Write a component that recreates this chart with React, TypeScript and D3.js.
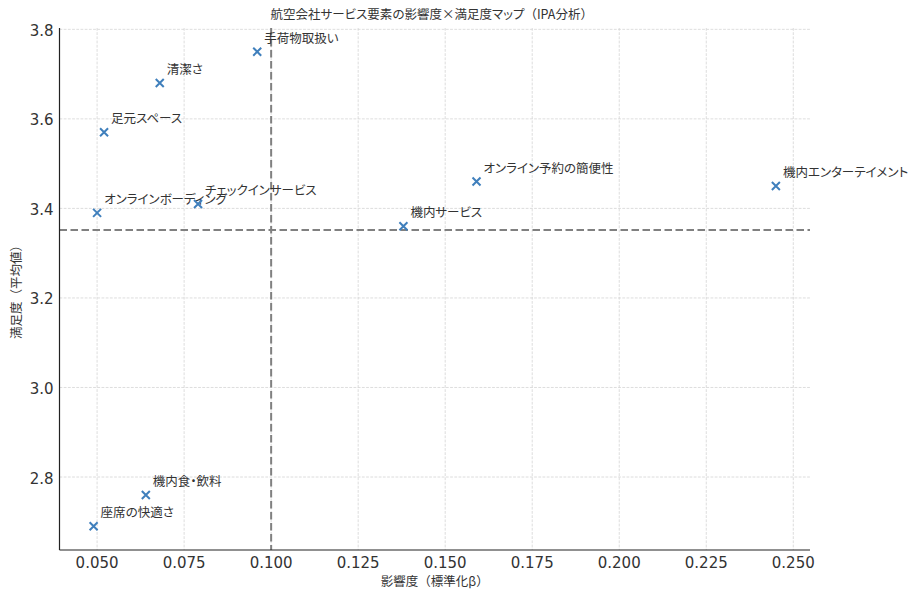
import React from "react";
import * as d3 from "d3";

const labels = [
  "手荷物取扱い",
  "清潔さ",
  "足元スペース",
  "オンラインボーディング",
  "チェックインサービス",
  "機内サービス",
  "オンライン予約の簡便性",
  "機内エンターテイメント",
  "機内食・飲料",
  "座席の快適さ",
];
const impact = [0.096, 0.068, 0.052, 0.05, 0.079, 0.138, 0.159, 0.245, 0.064, 0.049];
const satisfaction = [3.75, 3.68, 3.57, 3.39, 3.41, 3.36, 3.46, 3.45, 2.76, 2.69];
const xTicks = [0.05, 0.075, 0.1, 0.125, 0.15, 0.175, 0.2, 0.225, 0.25];
const yTicks = [2.8, 3.0, 3.2, 3.4, 3.6, 3.8];
const titleText = "航空会社サービス要素の影響度×満足度マップ（IPA分析）";
const xLabel = "影響度（標準化β）";
const yLabel = "満足度（平均値）";

const W = 908;
const H = 600;
const left = 59.5;
const right = 810;
const top = 28;
const bottom = 550;

const JP = "'Noto Sans CJK JP', 'Noto Sans', sans-serif";
const NUM = "'DejaVu Sans', sans-serif";
const jpStyle = { fontFeatureSettings: '"palt"' } as React.CSSProperties;
const fullStyle = { fontFeatureSettings: "normal" } as React.CSSProperties;

function jp(str: string) {
  const parts = str.split(/([（）])/).filter((s) => s.length > 0);
  return parts.map((p, i) =>
    p === "（" || p === "）" ? (
      <tspan key={i} style={fullStyle}>
        {p}
      </tspan>
    ) : (
      <tspan key={i} style={jpStyle}>
        {p}
      </tspan>
    )
  );
}

export default function App() {
  const xMin = d3.min(impact)!;
  const xMax = d3.max(impact)!;
  const yMin = d3.min(satisfaction)!;
  const yMax = d3.max(satisfaction)!;
  const xm = (xMax - xMin) * 0.05;
  const ym = (yMax - yMin) * 0.05;
  const x = d3.scaleLinear().domain([xMin - xm, xMax + xm]).range([left, right]);
  const y = d3.scaleLinear().domain([yMin - ym, yMax + ym]).range([bottom, top]);
  const meanX = d3.mean(impact)!;
  const meanY = d3.mean(satisfaction)!;
  const fmtX = d3.format(".3f");
  const fmtY = d3.format(".1f");
  const ms = 4;
  const cx = (left + right) / 2;

  return (
    <svg
      width={W}
      height={H}
      style={{ position: "absolute", left: 0, top: 0, background: "#fff" }}
    >
      <rect width={W} height={H} fill="#fff" />
      {xTicks.map((t) => (
        <line
          key={"gx" + t}
          x1={x(t)}
          x2={x(t)}
          y1={top}
          y2={bottom}
          stroke="#d4d4d4"
          strokeWidth={0.8}
          strokeDasharray="2.8,1.4"
        />
      ))}
      {yTicks.map((t) => (
        <line
          key={"gy" + t}
          x1={left}
          x2={right}
          y1={y(t)}
          y2={y(t)}
          stroke="#d4d4d4"
          strokeWidth={0.8}
          strokeDasharray="2.8,1.4"
        />
      ))}
      <line
        x1={x(meanX)}
        x2={x(meanX)}
        y1={top}
        y2={bottom}
        stroke="#808080"
        strokeWidth={2}
        strokeDasharray="7.5,3.5"
      />
      <line
        x1={left}
        x2={right}
        y1={y(meanY)}
        y2={y(meanY)}
        stroke="#808080"
        strokeWidth={2}
        strokeDasharray="7.5,3.5"
      />
      <line x1={left} x2={left} y1={top} y2={bottom} stroke="#222" strokeWidth={1.2} />
      <line x1={left} x2={right} y1={bottom} y2={bottom} stroke="#222" strokeWidth={1.2} />
      {xTicks.map((t) => (
        <text
          key={"tx" + t}
          x={x(t)}
          y={568}
          textAnchor="middle"
          fontFamily={NUM}
          fontSize={15}
          fill="#333"
        >
          {fmtX(t)}
        </text>
      ))}
      {yTicks.map((t) => (
        <text
          key={"ty" + t}
          x={left - 6}
          y={y(t) + 6.5}
          textAnchor="end"
          fontFamily={NUM}
          fontSize={15}
          fill="#333"
        >
          {fmtY(t)}
        </text>
      ))}
      {impact.map((v, i) => {
        const px = x(v);
        const py = y(satisfaction[i]);
        return (
          <g key={"p" + i}>
            <path
              d={`M${px - ms},${py - ms}L${px + ms},${py + ms}M${px - ms},${py + ms}L${px + ms},${py - ms}`}
              stroke="#3f7fbc"
              strokeWidth={2}
              fill="none"
            />
            <text
              x={px + 7}
              y={py - 9}
              fontFamily={JP}
              fontSize={12.5}
              fill="#333"
              style={jpStyle}
            >
              {labels[i]}
            </text>
          </g>
        );
      })}
      <text x={cx - 3} y={19} textAnchor="middle" fontFamily={JP} fontSize={12.5} fill="#333">
        {jp(titleText)}
      </text>
      <text x={cx} y={586} textAnchor="middle" fontFamily={JP} fontSize={12.5} fill="#333">
        {jp(xLabel)}
      </text>
      <text
        transform={`translate(15,${(top + bottom) / 2}) rotate(-90)`}
        textAnchor="middle"
        dominantBaseline="central"
        fontFamily={JP}
        fontSize={12.5}
        fill="#333"
      >
        {jp(yLabel)}
      </text>
    </svg>
  );
}
